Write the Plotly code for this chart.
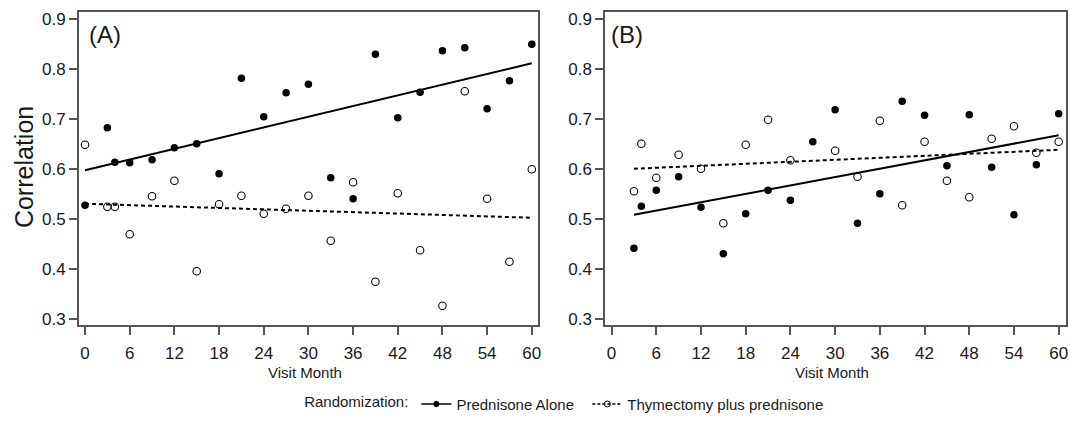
"""
Correlation by visit month, two panels (A) and (B),
prednisone alone vs thymectomy plus prednisone, with linear trends.
"""

import plotly.graph_objects as go

W, H = 1070, 421

# ---- data ----
months_a = [0, 3, 4, 6, 9, 12, 15, 18, 21, 24, 27, 30, 33, 36, 39, 42, 45, 48, 51, 54, 57, 60]
pred_a = [0.527, 0.682, 0.613, 0.612, 0.618, 0.642, 0.650, 0.590, 0.781, 0.704, 0.752,
          0.769, 0.582, 0.540, 0.829, 0.702, 0.753, 0.836, 0.842, 0.720, 0.776, 0.849]
thym_a = [0.648, 0.524, 0.524, 0.469, 0.545, 0.576, 0.395, 0.529, 0.546, 0.510, 0.520,
          0.546, 0.456, 0.573, 0.374, 0.551, 0.437, 0.326, 0.755, 0.540, 0.414, 0.599]

months_b_pred = [3, 4, 6, 9, 12, 15, 18, 21, 24, 27, 30, 33, 36, 39, 42, 45, 48, 51, 54, 57, 60]
pred_b = [0.441, 0.525, 0.557, 0.584, 0.523, 0.430, 0.510, 0.557, 0.537, 0.654, 0.718,
          0.491, 0.550, 0.735, 0.707, 0.606, 0.708, 0.603, 0.508, 0.608, 0.710]
months_b_thym = [3, 4, 6, 9, 12, 15, 18, 21, 24, 30, 33, 36, 39, 42, 45, 48, 51, 54, 57, 60]
thym_b = [0.555, 0.650, 0.582, 0.628, 0.600, 0.491, 0.648, 0.698, 0.617, 0.636,
          0.584, 0.696, 0.527, 0.654, 0.576, 0.543, 0.660, 0.685, 0.632, 0.654]

# trend lines (values at first and last month)
trend_months_a = [0, 60]
trend_pred_a = [0.597, 0.811]
trend_thym_a = [0.530, 0.502]
trend_months_b = [3, 60]
trend_pred_b = [0.508, 0.667]
trend_thym_b = [0.600, 0.638]

x_ticks = [0, 6, 12, 18, 24, 30, 36, 42, 48, 54, 60]
y_ticks = [0.3, 0.4, 0.5, 0.6, 0.7, 0.8, 0.9]

FONT = "Liberation Sans, Arial, sans-serif"
INK = "#1a1a1a"
FRAME = "#555555"

fig = go.Figure()

panels = [
    ("x", "y", months_a, pred_a, months_a, thym_a, trend_months_a, trend_pred_a, trend_thym_a),
    ("x2", "y2", months_b_pred, pred_b, months_b_thym, thym_b, trend_months_b, trend_pred_b, trend_thym_b),
]
for xa, ya, mp, vp, mt, vt, tm, tp, tt in panels:
    fig.add_trace(go.Scatter(x=tm, y=tt, mode="lines", xaxis=xa, yaxis=ya,
                             line=dict(color="black", width=2, dash="4px,3px"), showlegend=False))
    fig.add_trace(go.Scatter(x=tm, y=tp, mode="lines", xaxis=xa, yaxis=ya,
                             line=dict(color="black", width=2), showlegend=False))
    fig.add_trace(go.Scatter(x=mt, y=vt, mode="markers", xaxis=xa, yaxis=ya,
                             marker=dict(symbol="circle-open", size=7.5, color="black",
                                         line=dict(width=1.1)), showlegend=False))
    fig.add_trace(go.Scatter(x=mp, y=vp, mode="markers", xaxis=xa, yaxis=ya,
                             marker=dict(symbol="circle", size=7.5, color="black"), showlegend=False))

# legend-only entries
fig.add_trace(go.Scatter(x=[None], y=[None], mode="lines+markers",
                         name="Prednisone Alone\u00a0\u00a0",
                         line=dict(color="black", width=1.5),
                         marker=dict(symbol="circle", size=6, color="black")))
fig.add_trace(go.Scatter(x=[None], y=[None], mode="lines+markers", name="Thymectomy plus prednisone",
                         line=dict(color="black", width=1.5, dash="3px,2px"),
                         marker=dict(symbol="circle-open", size=6, color="black", line=dict(width=1))))

axis_style = dict(showline=True, linecolor=FRAME, linewidth=1.5, mirror=True,
                  ticks="outside", ticklen=8, tickwidth=1.5, tickcolor=FRAME,
                  showgrid=False, zeroline=False, tickfont=dict(size=17, color=INK, family=FONT))

ydom = [1 - 332.7 / H, 1 - 10 / H]
fig.update_layout(
    width=W, height=H,
    margin=dict(l=0, r=0, t=0, b=0),
    paper_bgcolor="white", plot_bgcolor="white",
    font=dict(family=FONT, color=INK),
    xaxis=dict(domain=[79 / W, 540 / W], range=[-0.84, 60.9], tickvals=x_ticks,
               ticklabelstandoff=4, **axis_style),
    xaxis2=dict(domain=[606.7 / W, 1069 / W], range=[-0.88, 60.98], tickvals=x_ticks,
                ticklabelstandoff=4, anchor="y2", **axis_style),
    yaxis=dict(domain=ydom, range=[0.287, 0.9142], tickvals=y_ticks, tickformat=".1f",
               **axis_style),
    yaxis2=dict(domain=ydom, range=[0.287, 0.9142], tickvals=y_ticks, tickformat=".1f",
                anchor="x2", **axis_style),
    legend=dict(orientation="h", x=303 / W, xanchor="left", y=1 - 397 / H, yanchor="top",
                title=dict(text="Randomization:", font=dict(size=15, color=INK, family=FONT)),
                font=dict(size=15, color=INK, family=FONT), bgcolor="rgba(0,0,0,0)"),
    showlegend=True,
)

annotations = [
    dict(text="(A)", x=87 / W, y=1 - 33 / H, xanchor="left", yanchor="middle", font=dict(size=24)),
    dict(text="(B)", x=611 / W, y=1 - 33 / H, xanchor="left", yanchor="middle", font=dict(size=24)),
    dict(text="Correlation", x=24 / W, y=1 - 170 / H, textangle=-90, xanchor="center",
         yanchor="middle", font=dict(size=25)),
    dict(text="Visit Month", x=306 / W, y=1 - 381.7 / H, xanchor="center", yanchor="middle",
         font=dict(size=15)),
    dict(text="Visit Month", x=834.5 / W, y=1 - 381.7 / H, xanchor="center", yanchor="middle",
         font=dict(size=15)),
]
for a in annotations:
    a.update(xref="paper", yref="paper", showarrow=False)
    a["font"].update(family=FONT, color=INK)
fig.update_layout(annotations=annotations)

# page body has a default margin; drop it so the figure sits at the top-left corner
fig.write_html("out.html", config={"displayModeBar": False},
               post_script="document.body.style.margin='0';")
